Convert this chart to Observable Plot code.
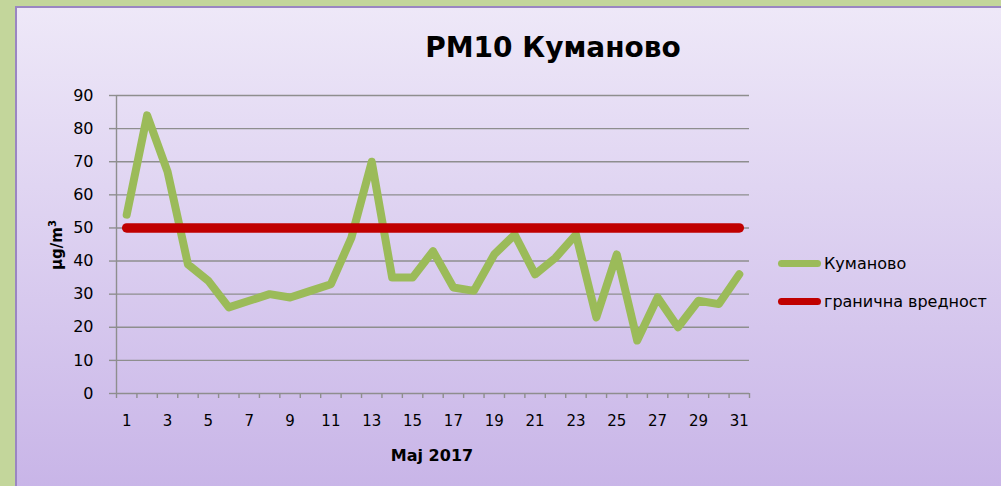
<!DOCTYPE html>
<html>
<head>
<meta charset="utf-8">
<script src="https://cdn.jsdelivr.net/npm/d3@7"></script>
<script src="https://cdn.jsdelivr.net/npm/@observablehq/plot@0.6"></script>
<style>
html,body{margin:0;padding:0;}
body{width:1001px;height:486px;overflow:hidden;background:#C3D69B;position:relative;font-family:"DejaVu Sans",sans-serif;color:#000;}
#panel{position:absolute;left:15px;top:6px;width:1010px;height:500px;border-left:2.5px solid #9A86C2;border-top:2.5px solid #9A86C2;background:linear-gradient(#EEE8F8,#C7B3E7);box-sizing:border-box;}
#chart{position:absolute;left:0;top:0;}
#title{position:absolute;left:353px;top:31px;width:400px;text-align:center;font-size:28px;font-weight:bold;line-height:34px;}
#ytitle{position:absolute;left:56px;top:245px;transform:translate(-50%,-50%) rotate(-90deg);font-size:15px;font-weight:bold;white-space:nowrap;}
#ytitle sup{font-size:10px;}
#xtitle{position:absolute;left:332px;top:446px;width:200px;text-align:center;font-size:16px;font-weight:bold;line-height:20px;}
.leg{position:absolute;left:778px;height:20px;display:flex;align-items:center;font-size:16px;white-space:nowrap;}
.leg span.sw{display:inline-block;width:43px;height:7px;border-radius:4px;margin-right:3px;}
</style>
</head>
<body>
<div id="panel"></div>
<div id="chart"></div>
<div id="title">PM10 Куманово</div>
<div id="ytitle">μg/m<sup>3</sup></div>
<div id="xtitle">Maj 2017</div>
<div class="leg" style="top:253px"><span class="sw" style="background:#9BBB59"></span>Куманово</div>
<div class="leg" style="top:291px"><span class="sw" style="background:#C00000"></span>гранична вредност</div>
<script>
const days = [1,2,3,4,5,6,7,8,9,10,11,12,13,14,15,16,17,18,19,20,21,22,23,24,25,26,27,28,29,30,31];
const pm10 = [54,84,67,39,34,26,28,30,29,31,33,47,70,35,35,43,32,31,42,48,36,41,48,23,42,16,29,20,28,27,36];
const limitValues = [50,50,50,50,50,50,50,50,50,50,50,50,50,50,50,50,50,50,50,50,50,50,50,50,50,50,50,50,50,50,50];
const yTicks = [0,10,20,30,40,50,60,70,80,90];
const xTickLabels = [1,3,5,7,9,11,13,15,17,19,21,23,25,27,29,31];

const rows = days.map((d,i)=>({day:d, pm10:pm10[i], limit:limitValues[i]}));
const bandEdges = days.map(d=>d-0.5).concat([days[days.length-1]+0.5]);
const grid = "#8E8E8E";

const chart = Plot.plot({
  width:1001, height:486,
  marginLeft:116, marginRight:252, marginTop:95, marginBottom:93,
  x:{type:"linear", domain:[0.5,31.5]},
  y:{domain:[0,90]},
  style:{background:"transparent", fontFamily:"DejaVu Sans, sans-serif", color:"#000", overflow:"visible"},
  marks:[
    Plot.gridY(yTicks,{stroke:grid, strokeOpacity:1, strokeWidth:1.4}),
    Plot.ruleX([0.5],{stroke:grid, strokeWidth:1.4}),
    Plot.axisY(yTicks,{tickSize:7, tickPadding:16, stroke:grid, strokeWidth:1.4, fill:"#000", fontSize:16, label:null, tickFormat:d=>String(d)}),
    Plot.axisX(bandEdges,{tickSize:5, tickFormat:()=>"", stroke:grid, strokeWidth:1.4, label:null}),
    Plot.axisX(xTickLabels,{tickSize:0, tickPadding:22, fontSize:15, fill:"#000", label:null, tickFormat:d=>String(d)}),
    Plot.line(rows,{x:"day", y:"pm10", stroke:"#9BBB59", strokeWidth:8, strokeLinejoin:"round", strokeLinecap:"round"}),
    Plot.line(rows,{x:"day", y:"limit", stroke:"#C00000", strokeWidth:9.5, strokeLinecap:"round"})
  ]
});
document.getElementById("chart").appendChild(chart);
</script>
</body>
</html>
